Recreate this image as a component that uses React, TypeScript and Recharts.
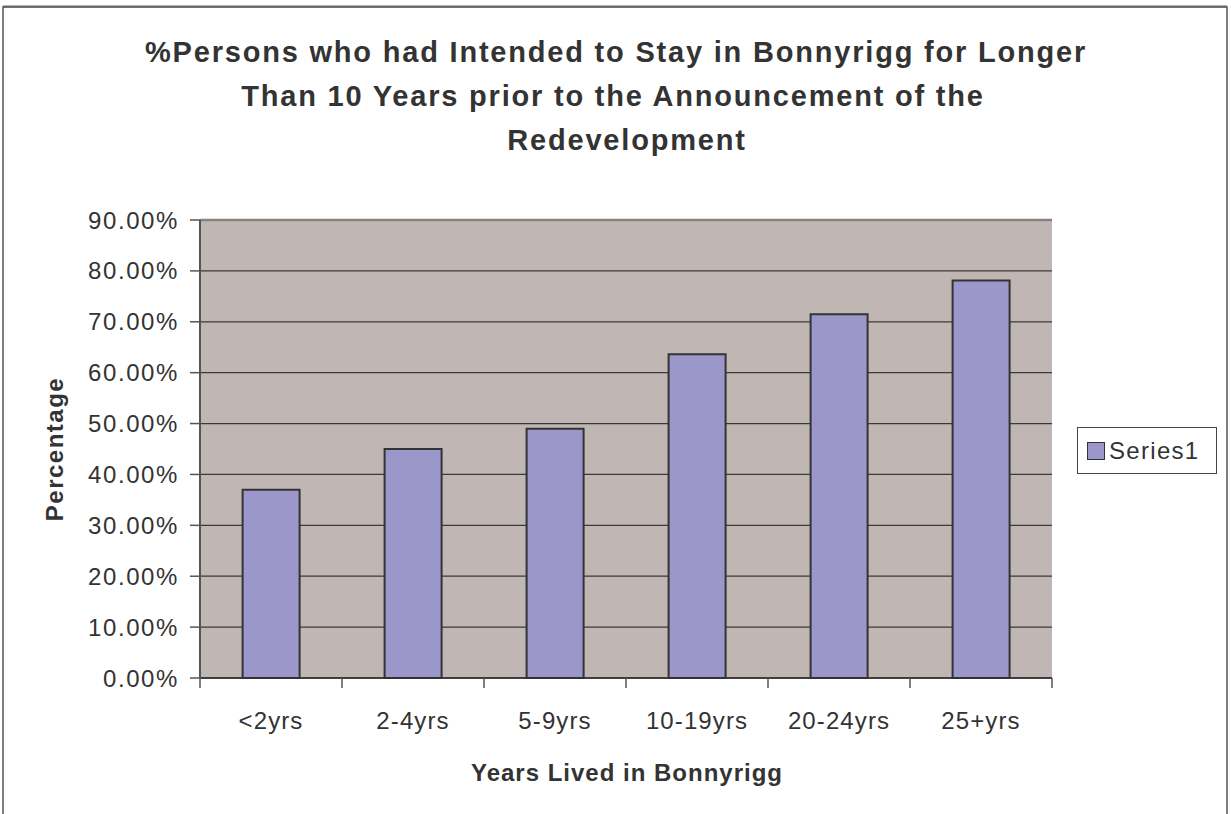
import React from 'react';
import { BarChart, Bar, XAxis, YAxis, CartesianGrid } from 'recharts';

const categories = ['<2yrs', '2-4yrs', '5-9yrs', '10-19yrs', '20-24yrs', '25+yrs'];
const series1 = [0.37, 0.45, 0.49, 0.636, 0.715, 0.781];
const yTicks = [0, 0.1, 0.2, 0.3, 0.4, 0.5, 0.6, 0.7, 0.8, 0.9];
const titleLines = [
  '%Persons who had Intended to Stay in Bonnyrigg for Longer',
  'Than 10 Years prior to the Announcement of the',
  'Redevelopment',
];
const xTitle = 'Years Lived in Bonnyrigg';
const yTitle = 'Percentage';
const seriesName = 'Series1';

const data = categories.map((c, i) => ({ cat: c, v: series1[i] }));

const W = 1231;
const H = 814;
const XH = 30;
const M = { top: 220, right: 179, bottom: 136 - XH, left: 0 };
const YW = 200;
const PLOT_W = W - M.left - M.right - YW;
const BAND = PLOT_W / categories.length;
const PLOT_BOTTOM = H - M.bottom - XH;

const TEXT = '#333333';
const FONT = '"Liberation Sans", Arial, sans-serif';
const PLOT_BG = '#C0B7B4';
const BAR = '#9C97CA';

const XTick = (props: any) => {
  const { x, index, payload } = props;
  const last = index === categories.length - 1;
  return (
    <g>
      <line x1={x - BAND / 2} y1={PLOT_BOTTOM} x2={x - BAND / 2} y2={PLOT_BOTTOM + 10} stroke="#555" strokeWidth={1.5} />
      {last && (
        <line x1={x + BAND / 2} y1={PLOT_BOTTOM} x2={x + BAND / 2} y2={PLOT_BOTTOM + 10} stroke="#555" strokeWidth={1.5} />
      )}
      <text x={x} y={PLOT_BOTTOM + 51} textAnchor="middle" fontSize={24} fill={TEXT} fontFamily={FONT} letterSpacing={1.1}>
        {payload.value}
      </text>
    </g>
  );
};

const gridLine = (props: any) => {
  const { x1, y1, x2, y2, index } = props;
  const top = index === yTicks.length - 1;
  return (
    <line key={`g-${index}`} x1={x1} y1={y1} x2={x2} y2={y2} stroke={top ? '#8a8080' : '#3a3a3a'} strokeWidth={top ? 2.5 : 1.3} />
  );
};

export default function App() {
  return (
    <div style={{ position: 'absolute', left: 0, top: 0, width: W, height: H, background: '#fff', overflow: 'hidden' }}>
      <BarChart width={W} height={H} data={data} margin={M} barCategoryGap="30%">
        <CartesianGrid vertical={false} horizontal={gridLine} fill={PLOT_BG} fillOpacity={1} />
        <XAxis
          dataKey="cat"
          interval={0}
          height={XH}
          tickLine={false}
          axisLine={{ stroke: '#333', strokeWidth: 1.5 }}
          tick={<XTick />}
        />
        <YAxis
          width={YW}
          domain={[0, 0.9]}
          ticks={yTicks}
          interval={0}
          tickFormatter={(v: number) => `${(v * 100).toFixed(2)}%`}
          tickSize={10}
          tickMargin={11}
          tickLine={{ stroke: '#555', strokeWidth: 1.5 }}
          axisLine={{ stroke: '#555', strokeWidth: 2 }}
          tick={{ fontSize: 24, fill: TEXT, fontFamily: FONT, letterSpacing: 1.6 }}
        />
        <YAxis
          yAxisId="right"
          orientation="right"
          width={0}
          domain={[0, 0.9]}
          tick={false}
          tickLine={false}
          axisLine={{ stroke: '#8a8080', strokeWidth: 2 }}
        />
        <Bar dataKey="v" name={seriesName} fill={BAR} stroke="#333" strokeWidth={2} isAnimationActive={false} />
      </BarChart>
      <div
        style={{
          position: 'absolute',
          left: 1077,
          top: 427,
          border: '1.5px solid #444',
          background: '#fff',
          width: 140,
          height: 47,
          boxSizing: 'border-box',
          display: 'flex',
          alignItems: 'center',
          fontFamily: FONT,
          fontSize: 24,
          letterSpacing: 1.3,
          color: TEXT,
        }}
      >
        <span
          style={{
            display: 'inline-block',
            width: 16,
            height: 16,
            background: BAR,
            border: '1.5px solid #333',
            marginLeft: 9,
            marginRight: 4,
          }}
        />
        <span>{seriesName}</span>
      </div>
      <svg width={W} height={H} style={{ position: 'absolute', left: 0, top: 0, pointerEvents: 'none' }}>
        <rect x={3} y={7} width={1224} height={900} fill="none" stroke="#555" strokeWidth={1.5} />
        <line x1={3} y1={6.5} x2={1227} y2={6.5} stroke="#666" strokeWidth={2} />
        {titleLines.map((t, i) => (
          <text
            key={i}
            x={[616, 613, 627][i]}
            y={62 + i * 44}
            textAnchor="middle"
            fontFamily={FONT}
            fontWeight="bold"
            fontSize={29}
            letterSpacing={1.8}
            fill={TEXT}
          >
            {t}
          </text>
        ))}
        <text x={627} y={781} textAnchor="middle" fontFamily={FONT} fontWeight="bold" fontSize={24} letterSpacing={1} fill={TEXT}>
          {xTitle}
        </text>
        <text
          x={54}
          y={449}
          dy="0.36em"
          transform="rotate(-90 54 449)"
          textAnchor="middle"
          fontFamily={FONT}
          fontWeight="bold"
          fontSize={24}
          letterSpacing={1.5}
          fill={TEXT}
        >
          {yTitle}
        </text>
      </svg>
    </div>
  );
}
